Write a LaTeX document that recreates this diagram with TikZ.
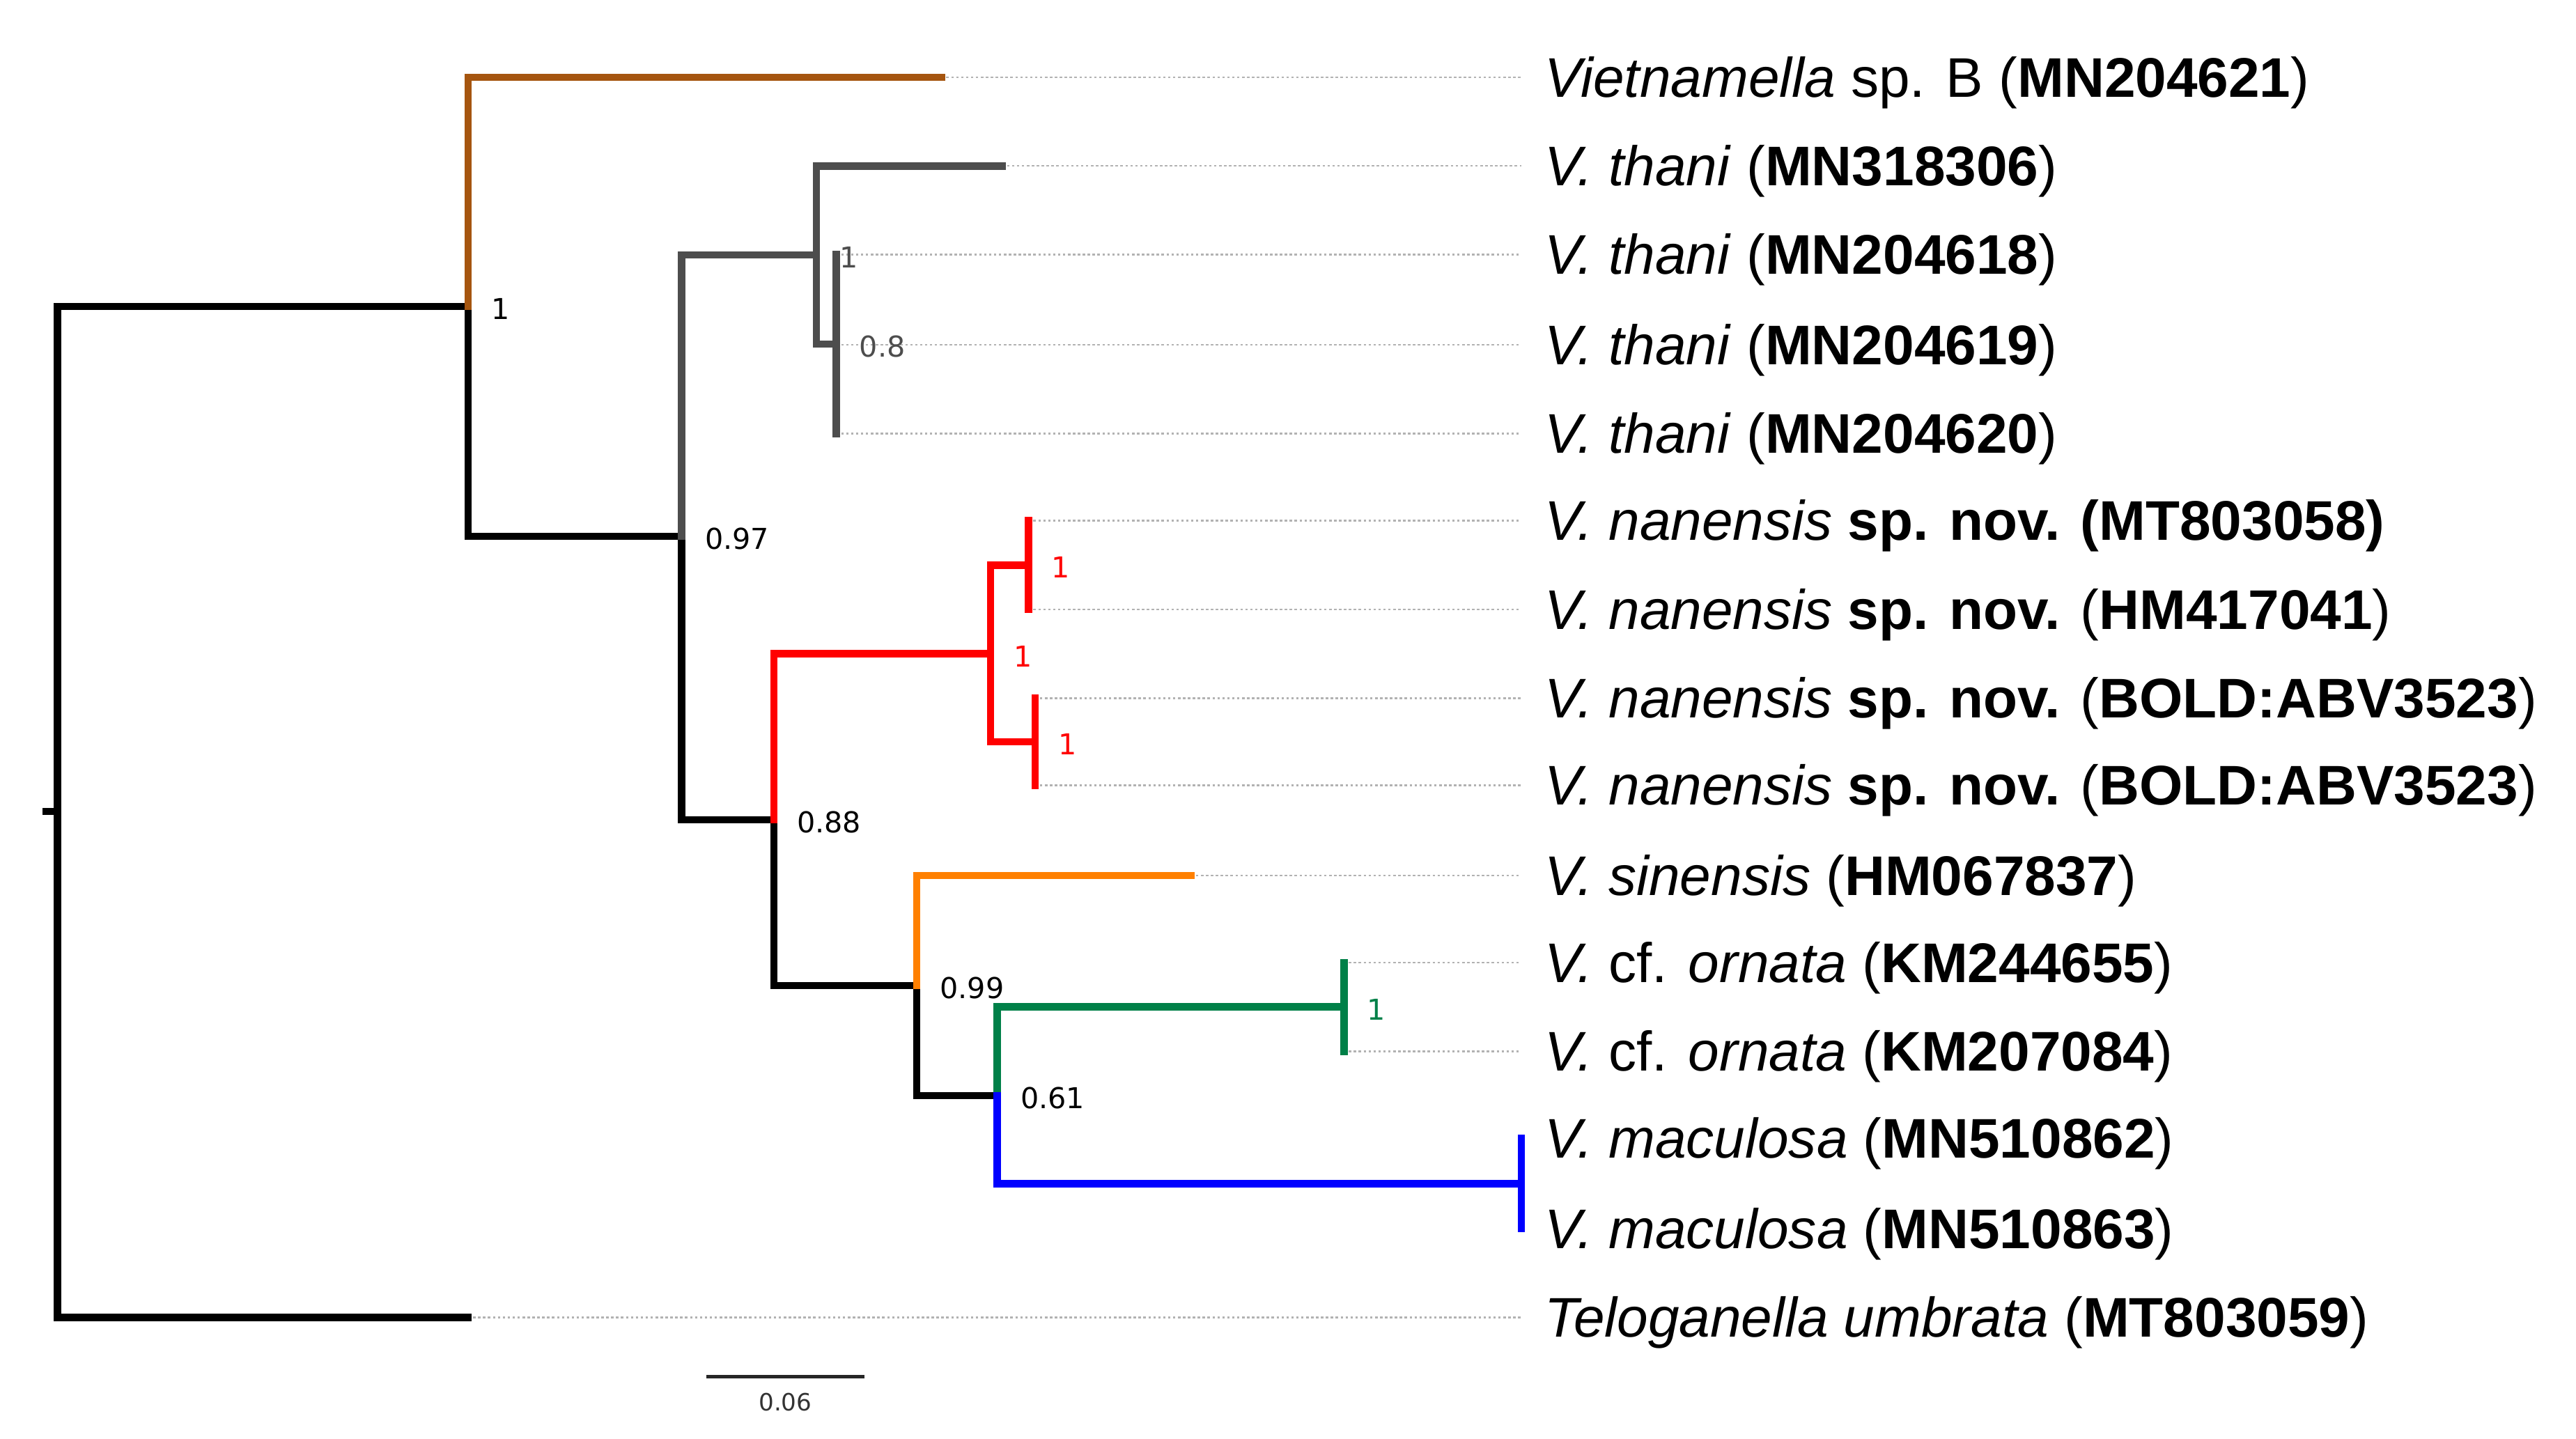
\documentclass[tikz,border=0pt]{standalone}
\usepackage{fontspec}
\setmainfont{Liberation Sans}
\newfontfamily\supfont{DejaVu Sans}
\usepackage{tikz}
\usetikzlibrary{positioning}
\definecolor{cbrown}{RGB}{165,85,15}
\definecolor{cgray}{RGB}{77,77,77}
\definecolor{cred}{RGB}{255,0,0}
\definecolor{corange}{RGB}{255,128,0}
\definecolor{cgreen}{RGB}{0,128,72}
\definecolor{cblue}{RGB}{0,0,255}

\begin{document}
\begin{tikzpicture}[x=1pt, y=-1pt, node distance=14pt,
  br/.style={line width=4.5pt, line cap=rect, line join=miter},
  dots/.style={gray!60, line width=1pt, dash pattern=on 1.5pt off 1.5pt, shorten >=14pt},
  taxon/.style={anchor=base west, inner sep=0pt, yshift=-12pt, font=\fontsize{34}{40}\selectfont},
  supp/.style={inner sep=0pt, yshift=-1.5pt, font=\supfont\fontsize{17.5}{20}\selectfont}]
\useasboundingbox (0,0) rectangle (1568,876);

% internal nodes
\coordinate (r0) at (28,494);
\coordinate (r) at (35,494);
\coordinate (nA) at (285,186.5);
\coordinate (nB) at (415,326.5);
\coordinate (nT) at (497,155.25);
\coordinate (nT2) at (509,209.5);
\coordinate (nC) at (471,499);
\coordinate (nR) at (603,398);
\coordinate (nR1) at (626,344);
\coordinate (nR2) at (630,451.5);
\coordinate (nD) at (558,600);
\coordinate (nE) at (607,667);
\coordinate (nO) at (818,613);
\coordinate (nM) at (926,720.5);

% tips
\coordinate (t1) at (573,47);
\coordinate (t2) at (610,101);
\coordinate (t3) at (509,155);
\coordinate (t4) at (509,210);
\coordinate (t5) at (509,264);
\coordinate (t6) at (626,317);
\coordinate (t7) at (626,371);
\coordinate (t8) at (630,425);
\coordinate (t9) at (630,478);
\coordinate (t10) at (725,533);
\coordinate (t11) at (818,586);
\coordinate (t12) at (818,640);
\coordinate (t13) at (926,693);
\coordinate (t14) at (926,748);
\coordinate (t15) at (285,802);

\node[taxon] (l1) at (940,47) {\textit{Vietnamella} sp. B (\textbf{MN204621})};
\node[taxon] (l2) at (940,101) {\textit{V. thani} (\textbf{MN318306})};
\node[taxon] (l3) at (940,155) {\textit{V. thani} (\textbf{MN204618})};
\node[taxon] (l4) at (940,210) {\textit{V. thani} (\textbf{MN204619})};
\node[taxon] (l5) at (940,264) {\textit{V. thani} (\textbf{MN204620})};
\node[taxon] (l6) at (940,317) {\textit{V. nanensis} \textbf{sp. nov. (MT803058)}};
\node[taxon] (l7) at (940,371) {\textit{V. nanensis} \textbf{sp. nov.} (\textbf{HM417041})};
\node[taxon] (l8) at (940,425) {\textit{V. nanensis} \textbf{sp. nov.} (\textbf{BOLD:ABV3523})};
\node[taxon] (l9) at (940,478) {\textit{V. nanensis} \textbf{sp. nov.} (\textbf{BOLD:ABV3523})};
\node[taxon] (l10) at (940,533) {\textit{V. sinensis} (\textbf{HM067837})};
\node[taxon] (l11) at (940,586) {\textit{V.} cf. \textit{ornata} (\textbf{KM244655})};
\node[taxon] (l12) at (940,640) {\textit{V.} cf. \textit{ornata} (\textbf{KM207084})};
\node[taxon] (l13) at (940,693) {\textit{V. maculosa} (\textbf{MN510862})};
\node[taxon] (l14) at (940,748) {\textit{V. maculosa} (\textbf{MN510863})};
\node[taxon] (l15) at (940,802) {\textit{Teloganella umbrata} (\textbf{MT803059})};

\foreach \i in {1,...,15}
  \draw[dots] (t\i) -- (t\i -| l\i.west);

\draw[br] (r0) -- (r);
\draw[br] (r) |- (nA);
\draw[br] (r) |- (t15);
\draw[br] (nA) |- (nB);
\draw[br, cbrown] (nA) |- (t1);
\draw[br] (nB) |- (nC);
\draw[br, cgray] (nB) |- (nT);
\draw[br, cgray] (nT) |- (t2);
\draw[br, cgray] (nT) |- (nT2);
\draw[br, cgray] (nT2) |- (t3) (nT2) -- (t4) (nT2) |- (t5);
\draw[br] (nC) |- (nD);
\draw[br, cred] (nC) |- (nR);
\draw[br, cred] (nR) |- (nR1) (nR) |- (nR2);
\draw[br, cred] (nR1) |- (t6) (nR1) |- (t7);
\draw[br, cred] (nR2) |- (t8) (nR2) |- (t9);
\draw[br] (nD) |- (nE);
\draw[br, corange] (nD) |- (t10);
\draw[br, cgreen] (nE) |- (nO);
\draw[br, cgreen] (nO) |- (t11) (nO) |- (t12);
\draw[br, cblue] (nE) |- (nM);
\draw[br, cblue] (nM) |- (t13) (nM) |- (t14);

\node[supp, right=of nA] (sA) {1};
\node[supp, right=of nB] (sB) {0.97};
\node[supp, cgray, right=of nT] (sT) {1};
\node[supp, cgray, right=of nT2] (sT2) {0.8};
\node[supp, right=of nC] (sC) {0.88};
\node[supp, cred, right=of nR] (sR) {1};
\node[supp, cred, right=of nR1] (sR1) {1};
\node[supp, cred, right=of nR2] (sR2) {1};
\node[supp, right=of nD] (sD) {0.99};
\node[supp, right=of nE] (sE) {0.61};
\node[supp, cgreen, right=of nO] (sO) {1};

% scale bar
\coordinate (sb1) at (430,838);
\coordinate (sb2) at (526,838);
\draw[line width=1.8pt, black!85] (sb1) -- (sb2)
  node[midway, below=9pt, inner sep=0pt, black!80, font=\supfont\fontsize{14.5}{16}\selectfont] (sbl) {0.06};
\end{tikzpicture}
\end{document}
